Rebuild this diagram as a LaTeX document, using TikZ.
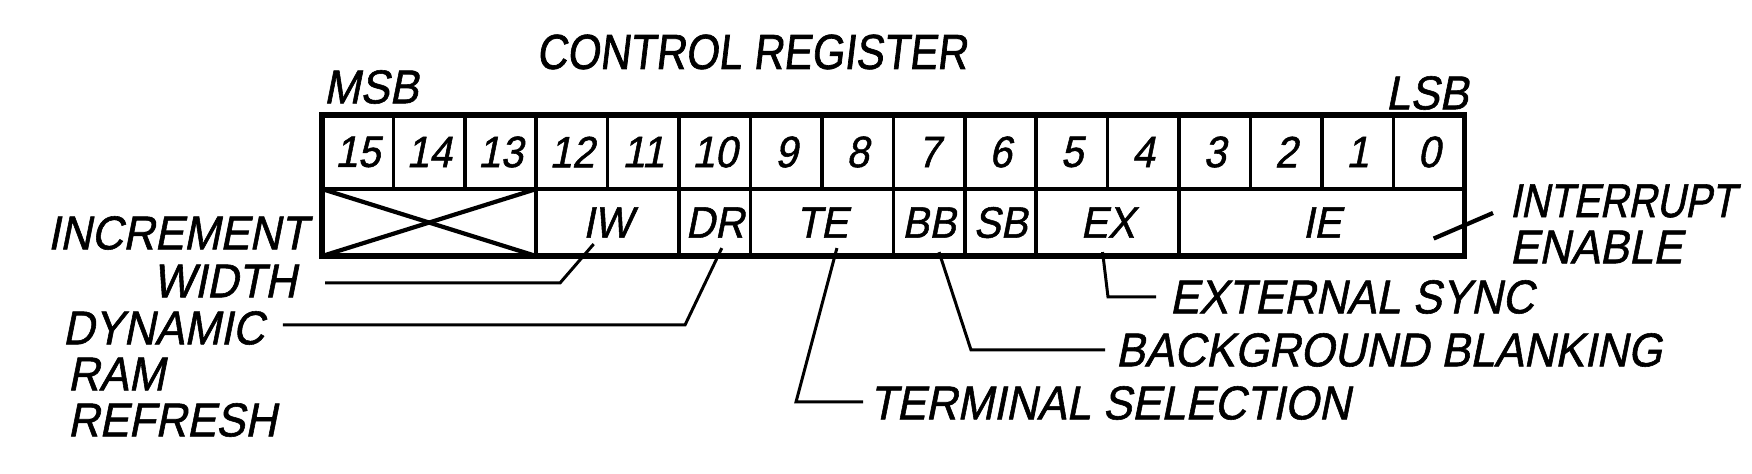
\documentclass[tikz,border=0pt]{standalone}
\usepackage{fontspec}
\setmainfont{Liberation Sans}
\newfontfamily\handfont[FakeSlant=0.2, FakeStretch=0.92, FakeBold=1.2]{Liberation Sans}
\newfontfamily\handnarrow[FakeSlant=0.2, FakeStretch=0.83, FakeBold=1.2]{Liberation Sans}
\newfontfamily\titlefont[FakeSlant=0.12, FakeStretch=0.85, FakeBold=1.4]{Liberation Sans}
\usetikzlibrary{calc,positioning}

\begin{document}
\begin{tikzpicture}[x=0.01cm, y=-0.01cm,
  bitcell/.style={draw, line width=1pt, outer sep=0pt, inner sep=0pt, minimum width=7.1375mm, minimum height=7.4mm, font=\handfont\fontsize{12.5}{14}\selectfont},
  fieldbox/.style={draw, line width=1pt, outer sep=0pt, inner sep=0pt, minimum height=6.7mm, font=\handfont\fontsize{12.5}{14}\selectfont},
  lbl/.style={inner sep=0pt, font=\handfont\fontsize{13.5}{15}\selectfont},
  leader/.style={line width=0.85pt}]

\useasboundingbox (0,0) rectangle (1752,474);

\node [lbl, font=\titlefont\fontsize{14}{16}\selectfont] at (752, 52) (TITLE) {CONTROL REGISTER};
\node [lbl, anchor=west] at (323, 87) (MSB) {MSB};
\node [lbl, anchor=east] at (1469, 93) (LSB) {LSB};

% bit numbers
\node [bitcell, anchor=north west] at (322, 115) (B15) {15};
\node [bitcell, right=0pt of B15] (B14) {14};
\node [bitcell, right=0pt of B14] (B13) {13};
\node [bitcell, right=0pt of B13] (B12) {12};
\node [bitcell, right=0pt of B12] (B11) {11};
\node [bitcell, right=0pt of B11] (B10) {10};
\node [bitcell, right=0pt of B10] (B9) {9};
\node [bitcell, right=0pt of B9] (B8) {8};
\node [bitcell, right=0pt of B8] (B7) {7};
\node [bitcell, right=0pt of B7] (B6) {6};
\node [bitcell, right=0pt of B6] (B5) {5};
\node [bitcell, right=0pt of B5] (B4) {4};
\node [bitcell, right=0pt of B4] (B3) {3};
\node [bitcell, right=0pt of B3] (B2) {2};
\node [bitcell, right=0pt of B2] (B1) {1};
\node [bitcell, right=0pt of B1] (B0) {0};

% fields
\node [fieldbox, anchor=north west, minimum width=21.4125mm] at (B15.south west) (XX) {};
\node [fieldbox, anchor=north west, minimum width=14.275mm] at (B12.south west) (IW) {IW};
\node [fieldbox, anchor=north west, minimum width=7.1375mm] at (B10.south west) (DR) {DR};
\node [fieldbox, anchor=north west, minimum width=14.275mm] at (B9.south west) (TE) {TE};
\node [fieldbox, anchor=north west, minimum width=7.1375mm] at (B7.south west) (BB) {BB};
\node [fieldbox, anchor=north west, minimum width=7.1375mm] at (B6.south west) (SB) {SB};
\node [fieldbox, anchor=north west, minimum width=14.275mm] at (B5.south west) (EX) {EX};
\node [fieldbox, anchor=north west, minimum width=28.55mm] at (B3.south west) (IE) {IE};

\draw [line width=1.2pt] (XX.north west) -- (XX.south east);
\draw [line width=1.2pt] (XX.south west) -- (XX.north east);
\draw [line width=1.6pt] (B15.north west) rectangle (IE.south east);

% labels
\node [lbl, anchor=east] at (308, 233) (INCREMENT) {INCREMENT};
\node [lbl, anchor=east] at (297, 281) (WIDTH) {WIDTH};
\node [lbl, anchor=west] at (62, 328) (DYNAMIC) {DYNAMIC};
\node [lbl, anchor=west] at (67, 374) (RAM) {RAM};
\node [lbl, anchor=west] at (67, 420) (REFRESH) {REFRESH};
\node [lbl, anchor=west] at (869, 403) (TERMINAL) {TERMINAL SELECTION};
\node [lbl, anchor=west] at (1115, 350) (BACKGROUND) {BACKGROUND BLANKING};
\node [lbl, anchor=west] at (1169, 297) (EXTERNAL) {EXTERNAL SYNC};
\node [lbl, anchor=west, font=\handnarrow\fontsize{13.5}{15}\selectfont] at (1509, 201) (INTERRUPT) {INTERRUPT};
\node [lbl, anchor=west] at (1509, 247) (ENABLE) {ENABLE};

% leaders
\coordinate (IWTIP) at ($(IW.south)+(-14,-12)$);
\coordinate (IWBEND) at (560, 283);
\draw [leader, shorten <=2.8mm] (WIDTH.east |- IWBEND) -- (IWBEND) -- (IWTIP);

\coordinate (DRTIP) at ($(DR.south)+(7,-8)$);
\coordinate (DRBEND) at (685, 325);
\draw [leader, shorten <=1.8mm] (DYNAMIC.east |- DRBEND) -- (DRBEND) -- (DRTIP);

\coordinate (TETIP) at ($(TE.south)+(15,-8)$);
\coordinate (TEBEND) at (796, 402);
\draw [leader, shorten >=0.6mm] (TETIP) -- (TEBEND) -- (TERMINAL.west |- TEBEND);

\coordinate (BBTIP) at ($(BB.south)+(10,-4)$);
\coordinate (BBBEND) at (971, 350);
\draw [leader, shorten >=1mm] (BBTIP) -- (BBBEND) -- (BACKGROUND.west |- BBBEND);

\coordinate (EXTIP) at ($(EX.south)+(-5,-4)$);
\coordinate (EXBEND) at (1108, 297);
\draw [leader, shorten >=1.3mm] (EXTIP) -- (EXBEND) -- (EXTERNAL.west |- EXBEND);

\coordinate (IETIP) at ($(IE.east)+(-31,16)$);
\coordinate (IEEND) at (1493, 213);
\draw [leader, line width=1.2pt] (IETIP) -- (IEEND);

\end{tikzpicture}
\end{document}
